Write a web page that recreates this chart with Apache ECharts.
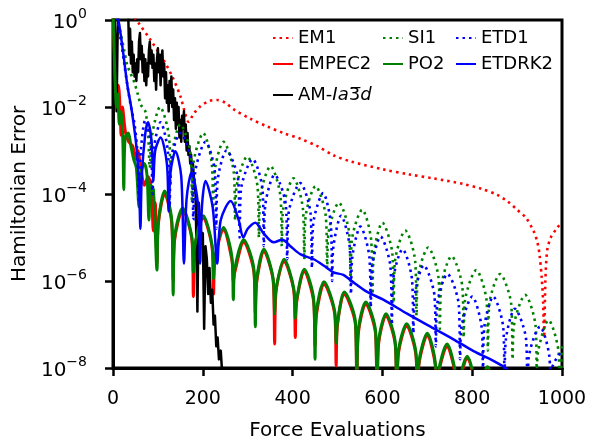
<!DOCTYPE html>
<html><head><meta charset="utf-8">
<script src="https://cdn.jsdelivr.net/npm/echarts@6/dist/echarts.min.js"></script>
<style>html,body{margin:0;padding:0;background:#fff}#c{width:592px;height:446px}</style>
</head><body><div id="c"></div>
<script>
// x tick values and y tick exponents
const xTicks = [0, 200, 400, 600, 800, 1000];
const yTickExponents = [-8, -6, -4, -2, 0];
// each point: [force evaluations, log10(Hamiltonian error)]
const em1 = [[30,0.3],[57,-0.07],[83,-0.45],[112,-0.91],[132,-1.3],[150,-1.75],[161,-2.16],[168,-2.34],[180,-2.15],[195,-1.98],[215,-1.86],[232,-1.84],[250,-1.9],[268,-2.05],[306,-2.27],[344,-2.45],[380,-2.6],[417,-2.73],[455,-2.9],[491,-3.11],[529,-3.25],[600,-3.43],[660,-3.55],[713,-3.64],[780,-3.77],[820,-3.88],[856,-4.02],[880,-4.18],[900,-4.36],[920,-4.55],[937,-4.86],[945,-5.1],[950,-5.4],[955,-5.95],[958,-6.5],[960,-7.3],[963,-6.0],[967,-5.3],[975,-5.0],[990,-4.77],[1000,-4.65]];
const empec2 = [[0,0.3],[4,-1.0],[8,-1.8],[12,-1.5],[16,-2.1],[18,-2.65],[21,-2.0],[28,-2.6],[35,-2.8],[44,-2.9],[50,-3.2],[55,-3.0],[62,-3.4],[70,-3.8],[78,-3.6],[85,-3.9],[90,-4.85],[94,-4.2],[98,-5.6],
[101,-4.69],[115,-3.99],[131,-4.69],[134,-6.0],[137,-5.08],[155,-4.38],[176,-5.08],[179,-6.36],[182,-5.26],[201,-4.56],[221,-5.26],[224,-6.3],[227,-5.53],[246,-4.83],[265,-5.53],[268,-6.0],[271,-5.81],[291,-5.11],[314,-5.81],[317,-6.75],[320,-6.03],[336,-5.33],[357,-6.03],[360,-7.45],[363,-6.26],[381,-5.56],[403,-6.26],[406,-7.3],[409,-6.49],[426,-5.79],[447,-6.49],[450,-7.5],[453,-6.78],[470,-6.08],[494,-6.78],[497,-7.95],[500,-7.01],[515,-6.31],[540,-7.01],[543,-8.5],[546,-7.24],[563,-6.54],[585,-7.24],[588,-9],[591,-7.51],[608,-6.81],[629,-7.51],[632,-9],[635,-7.74],[654,-7.04],[675,-7.74],[678,-9],[681,-7.96],[700,-7.26],[718,-7.96],[721,-9],[724,-8.21],[744,-7.51],[763,-8.21],[766,-9],[769,-8.49],[789,-7.79],[808,-8.49],[811,-9],[814,-8.73],[834,-8.03],[853,-8.73],[856,-9.5],[859,-8.96],[878,-8.26],[897,-8.96],[900,-9.5]];
const po2 = [[0,0.3],[4,-1.2],[8,-2.0],[11,-1.7],[14,-2.4],[18,-2.1],[22,-2.8],[24,-3.9],[27,-2.7],[34,-2.6],[40,-2.9],[46,-3.2],[52,-3.4],[58,-4.3],[62,-3.5],[70,-3.3],[76,-3.6],[80,-4.6],[84,-3.8],[90,-3.9],[98,-5.75],
[101,-4.63],[115,-3.93],[131,-4.63],[134,-6.32],[137,-5.02],[155,-4.32],[176,-5.02],[179,-5.8],[182,-5.2],[201,-4.5],[221,-5.2],[224,-5.95],[227,-5.47],[246,-4.77],[265,-5.47],[268,-6.43],[271,-5.75],[291,-5.05],[314,-5.75],[317,-7.05],[320,-5.97],[336,-5.27],[357,-5.97],[360,-6.75],[363,-6.2],[381,-5.5],[403,-6.2],[406,-6.86],[409,-6.43],[426,-5.73],[447,-6.43],[450,-7.8],[453,-6.72],[470,-6.02],[494,-6.72],[497,-7.43],[500,-6.95],[515,-6.25],[540,-6.95],[543,-8.6],[546,-7.18],[563,-6.48],[585,-7.18],[588,-9],[591,-7.45],[608,-6.75],[629,-7.45],[632,-9],[635,-7.68],[654,-6.98],[675,-7.68],[678,-9],[681,-7.9],[700,-7.2],[718,-7.9],[721,-9],[724,-8.15],[744,-7.45],[763,-8.15],[766,-9],[769,-8.43],[789,-7.73],[808,-8.43],[811,-9],[814,-8.67],[834,-7.97],[853,-8.67],[856,-9.5],[859,-8.9],[878,-8.2],[897,-8.9],[900,-9.5]];
const si1 = [[0,0.5],[15,-0.2],[25,-0.7],[32,-1.05],[40,-1.25],[48,-1.45],[55,-1.7],[62,-1.95],[72,-2.1],[78,-2.6],[82,-3.4],[86,-2.7],
[105,-2.0],[125,-2.7],[128,-3.8],[131,-3.1],[150,-2.4],[173,-3.1],[176,-4.2],[179,-3.3],[201,-2.6],[220,-3.3],[223,-4.4],[226,-3.5],[246,-2.8],[269,-3.5],[272,-4.6],[275,-3.84],[299,-3.14],[322,-3.84],[325,-5.0],[328,-4.06],[351,-3.36],[373,-4.06],[376,-5.2],[379,-4.34],[402,-3.64],[423,-4.34],[426,-5.5],[429,-4.52],[451,-3.82],[474,-4.52],[477,-5.7],[480,-4.9],[503,-4.2],[526,-4.9],[529,-6.0],[532,-5.06],[555,-4.36],[575,-5.06],[578,-6.3],[581,-5.36],[600,-4.66],[622,-5.36],[625,-6.5],[628,-5.54],[651,-4.84],[673,-5.54],[676,-6.8],[679,-5.93],[702,-5.23],[725,-5.93],[728,-7.1],[731,-6.13],[754,-5.43],[778,-6.13],[781,-7.3],[784,-6.45],[809,-5.75],[832,-6.45],[835,-7.6],[838,-6.54],[862,-5.84],[887,-6.54],[890,-7.8],[893,-7.02],[918,-6.32],[941,-7.02],[944,-8.1],[947,-7.6],[970,-6.9],[992,-7.6],[995,-8.5],[1000,-7.5]];
const etd1 = [[0,0.5],[10,0.0],[18,-0.5],[25,-1.0],[32,-1.5],[40,-2.0],[48,-2.4],[54,-3.0],[58,-4.2],[62,-3.0],[72,-2.3],[84,-2.8],[88,-4.0],[92,-2.9],[106,-2.35],[122,-3.0],[126,-4.3],[130,-3.2],[150,-2.6],[175,-3.3],[179,-4.6],[183,-3.5],
[206,-2.8],[227,-3.5],[230,-4.8],[233,-3.7],[253,-3.0],[279,-3.7],[282,-5.0],[285,-3.9],[311,-3.2],[333,-3.9],[336,-5.2],[339,-4.26],[360,-3.56],[385,-4.26],[388,-5.5],[391,-4.45],[417,-3.75],[440,-4.45],[443,-5.7],[446,-4.68],[468,-3.98],[485,-4.68],[488,-6.0],[491,-5.2],[508,-4.5],[527,-5.2],[530,-6.3],[533,-5.45],[551,-4.75],[571,-5.45],[574,-6.6],[577,-5.68],[596,-4.98],[618,-5.68],[621,-7.0],[624,-5.97],[645,-5.27],[666,-5.97],[669,-7.2],[672,-6.34],[692,-5.64],[716,-6.34],[719,-7.5],[722,-6.54],[745,-5.84],[770,-6.54],[773,-7.8],[776,-7.06],[800,-6.36],[821,-7.06],[824,-8.0],[827,-7.06],[847,-6.36],[869,-7.06],[872,-8.2],[875,-7.34],[895,-6.64],[920,-7.34],[923,-8.6],[926,-7.75],[951,-7.05],[972,-7.75],[975,-8.8],[978,-8.0],[1000,-7.6]];
const etdrk2 = [[0,0.5],[12,0],[22,-0.7],[32,-1.5],[42,-2.1],[52,-2.9],[58,-3.8],[61,-4.8],[64,-3.6],[72,-2.6],[78,-2.35],[86,-2.8],[90,-3.7],[94,-3.0],[106,-2.7],[120,-3.3],[124,-4.4],[128,-3.5],[139,-3.02],[152,-3.6],[158,-5.6],[164,-4.1],[175,-3.5],[190,-4.3],[194,-5.6],[198,-4.3],[206,-3.7],[222,-4.3],[232,-5.6],[240,-4.6],[262,-4.16],[280,-4.6],[290,-5.0],[300,-4.8],[317,-4.66],[335,-4.9],[358,-5.11],[377,-5.05],[395,-5.2],[418,-5.39],[447,-5.5],[470,-5.65],[491,-5.8],[513,-5.86],[529,-5.98],[566,-6.25],[602,-6.43],[655,-6.75],[707,-7.05],[758,-7.34],[803,-7.61],[841,-7.8],[867,-7.95],[900,-8.2]];
const amIa3d = [[0,0.5],[4,0.1],[6,-1.0],[8,-2.1],[10,-0.5],[12,0.3],[30,0.3],[34,0.1],[36,-0.8],[38,-0.2],[40,-1.0],[42,-0.5],[44,-1.2],[46,-0.8],[48,-1.3],[50,-1.0],[52,-1.4],[54,-0.9],[56,-1.2],[58,-0.5],[60,-0.3],[62,-0.9],[64,-0.6],[66,-1.2],[68,-0.8],[70,-1.4],[72,-0.9],[74,-1.5],[76,-1.0],[78,-1.3],[80,-0.7],[82,-0.5],[84,-1.0],[86,-0.7],[88,-1.1],[90,-0.8],[92,-1.4],[94,-1.0],[96,-1.6],[98,-0.9],[100,-0.65],[102,-1.2],[104,-0.8],[106,-1.5],[108,-0.9],[110,-0.7],[112,-1.3],[114,-1.0],[116,-1.8],[118,-1.2],[120,-1.9],[122,-1.5],[124,-2.1],[126,-1.4],[128,-1.9],[130,-1.3],[132,-2.0],[134,-1.6],[136,-2.3],[138,-1.8],[140,-2.5],[142,-1.9],[144,-2.4],[146,-2.0],[148,-2.7],[150,-2.3],[152,-2.8],[154,-2.2],[156,-2.5],[158,-2.1],[160,-2.8],[162,-2.4],[164,-3.0],[166,-2.6],[168,-3.1],[170,-2.9],[172,-3.3],[174,-3.1],[176,-3.6],[178,-3.3],[180,-3.6],[184,-4.0],[188,-6.7],[191,-4.2],[194,-4.6],[197,-5.0],[200,-4.9],[203,-7.1],[206,-5.2],[209,-5.5],[212,-6.3],[215,-5.7],[218,-6.5],[221,-6.2],[224,-7.0],[227,-6.8],[230,-7.5],[233,-7.3],[236,-7.8],[240,-7.6],[243,-8.1],[247,-8.0],[252,-8.5]];
const seriesNames = ['EM1','SI1','ETD1','EMPEC2','PO2','ETDRK2','AM-Ia3d'];

function toValues(pts){ return pts.map(p => [p[0], Math.pow(10, p[1])]); }
const FONT = 'DejaVu Sans';
const DOT = [2.5, 4];
function mk(name, pts, color, width, dotted, z, smooth){
  return { name, type:'line', data: toValues(pts), symbol:'none', showSymbol:false, smooth: smooth,
    lineStyle:{ color, width, type: dotted ? DOT : 'solid', cap:'butt', join:'round' },
    itemStyle:{ color, opacity:0 }, z, clip:true, animation:false };
}
const series = [
  mk('EM1', em1, '#ff0000', 2.6, true, 2, 0.3),
  mk('EMPEC2', empec2, '#ff0000', 3, false, 3, 0.3),
  mk('AM-Ia3d', amIa3d, '#000000', 2.5, false, 4, false),
  mk('SI1', si1, '#008000', 2.6, true, 5, 0.3),
  mk('PO2', po2, '#008000', 3, false, 6, 0.3),
  mk('ETD1', etd1, '#0000ff', 2.6, true, 7, 0.3),
  mk('ETDRK2', etdrk2, '#0000ff', 2.5, false, 8, 0.3)
];
function legendAt(name, left, top){
  return { data:[name], left, top, padding:0, orient:'vertical', itemWidth:20, itemHeight:12, itemGap:0,
    selectedMode:false, itemStyle:{ opacity:0 },
    textStyle:{ fontFamily:FONT, fontSize:18, color:'#000',
      rich:{ n:{fontFamily:FONT, fontSize:18, color:'#000'}, i:{fontFamily:FONT, fontSize:18, fontStyle:'italic', color:'#000'} } },
    formatter: nm => nm === 'AM-Ia3d' ? '{n|AM-}{i|Ia}{n|3\u0305}{i|d}' : nm };
}
const chart = echarts.init(document.getElementById('c'), null, {renderer:'canvas'});
chart.setOption({
  animation:false,
  backgroundColor:'#fff',
  grid:{ left:113, right:30, top:20, bottom:74, show:true, borderColor:'#000', borderWidth:3, backgroundColor:'transparent' },
  legend:[
    legendAt('EM1', 272, 29), legendAt('EMPEC2', 272, 55), legendAt('AM-Ia3d', 272, 86),
    legendAt('SI1', 382, 29), legendAt('PO2', 382, 55),
    legendAt('ETD1', 455, 29), legendAt('ETDRK2', 455, 55)
  ],
  xAxis:{ type:'value', min:xTicks[0], max:xTicks[xTicks.length-1], interval:200,
    name:'Force Evaluations', nameLocation:'middle', nameGap:53,
    nameTextStyle:{ fontFamily:FONT, fontSize:20, color:'#000' },
    axisLine:{ lineStyle:{ color:'#000', width:3 } },
    axisTick:{ show:true, length:8, inside:false, lineStyle:{ color:'#000', width:2.5 } },
    axisLabel:{ fontFamily:FONT, fontSize:19, color:'#000', margin:22, formatter: v => String(v) },
    splitLine:{ show:false } },
  yAxis:{ type:'log', logBase:10, min:Math.pow(10, yTickExponents[0]), max:Math.pow(10, yTickExponents[yTickExponents.length-1]), interval:2,
    name:'Hamiltonian Error', nameLocation:'middle', nameGap:82, nameRotate:90,
    nameTextStyle:{ fontFamily:FONT, fontSize:20, color:'#000' },
    axisLine:{ lineStyle:{ color:'#000', width:3 } },
    axisTick:{ show:true, length:8, inside:false, lineStyle:{ color:'#000', width:2.5 } },
    minorTick:{ show:false },
    axisLabel:{ margin:26, formatter: v => { const e = Math.round(Math.log10(v)); return '{b|10}{s|' + (e < 0 ? '\u2212' + (-e) : e) + '}'; },
      rich:{ b:{ fontFamily:FONT, fontSize:20, color:'#000', lineHeight:26, verticalAlign:'bottom' },
             s:{ fontFamily:FONT, fontSize:14, color:'#000', verticalAlign:'top' } } },
    splitLine:{ show:false } },
  series
});
</script></body></html>
